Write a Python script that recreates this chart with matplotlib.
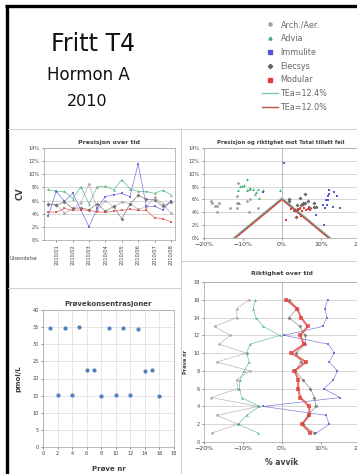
import matplotlib
matplotlib.use('Agg')
import matplotlib.pyplot as plt
from matplotlib.lines import Line2D
from matplotlib.ticker import PercentFormatter

W, H = 357, 474

# sample number 1..16 (2 samples per send-out)
samples = list(range(1, 17))
months = ['2010/01', '2010/02', '2010/03', '2010/04', '2010/05', '2010/06', '2010/07', '2010/08']

series = ['Arch./Aer.', 'Advia', 'Immulite', 'Elecsys', 'Modular']
colors = {'Arch./Aer.': '#a69aa6', 'Advia': '#3fae72', 'Immulite': '#5757d1',
          'Elecsys': '#666666', 'Modular': '#e0403c'}
markers = {'Arch./Aer.': 'o', 'Advia': '^', 'Immulite': 's', 'Elecsys': 'D', 'Modular': 's'}

# CV (%) per sample
cv_arch = [5.4, 5.4, 4.1, 4.7, 5.7, 8.5, 4.6, 6.0, 5.0, 5.8, 5.5, 4.7, 5.0, 6.5, 5.5, 4.1]
cv_advia = [7.7, 7.4, 7.4, 6.3, 8.1, 5.5, 8.1, 8.2, 7.6, 9.2, 7.8, 7.4, 7.4, 7.1, 7.6, 6.9]
cv_immulite = [3.6, 7.4, 5.9, 7.1, 4.6, 2.0, 4.9, 6.6, 6.9, 7.1, 6.6, 11.6, 5.1, 5.1, 4.6, 5.9]
cv_elecsys = [5.5, 5.3, 5.8, 4.8, 4.9, 4.6, 5.5, 4.4, 5.1, 3.2, 5.5, 6.8, 6.2, 6.1, 5.1, 5.8]
cv_modular = [4.3, 4.2, 4.8, 4.5, 4.6, 4.5, 4.3, 4.2, 4.4, 4.5, 4.7, 4.5, 4.5, 3.4, 3.2, 2.8]

# bias (%) per sample
bias_arch = [-18.0, -11.4, -16.7, -6.1, -18.1, -11.4, -11.6, -8.2, -16.7, -9.1, -16.1, -13.3, -17.3, -11.6, -11.6, -8.5]
bias_advia = [-6.1, -11.2, -9.1, -5.8, -10.3, -10.9, -10.8, -9.7, -8.4, -9.1, -8.2, -0.6, -4.8, -6.7, -7.4, -6.8]
bias_immulite = [8.7, 12.1, 11.3, -4.8, 14.9, 10.7, 13.2, 14.2, 12.1, 13.4, 11.9, 0.5, 10.4, 11.5, 11.0, 11.7]
bias_elecsys = [8.3, 5.3, 6.6, 8.7, 8.3, 7.3, 5.3, 3.4, 4.9, 3.6, 5.9, 6.0, 4.5, 1.8, 3.9, 1.9]
bias_modular = [7.3, 5.1, 7.0, 7.0, 4.7, 4.1, 4.2, 3.2, 6.2, 2.4, 5.6, 4.7, 6.6, 4.9, 3.9, 1.1]

cv = {'Arch./Aer.': cv_arch, 'Advia': cv_advia, 'Immulite': cv_immulite,
      'Elecsys': cv_elecsys, 'Modular': cv_modular}
bias = {'Arch./Aer.': bias_arch, 'Advia': bias_advia, 'Immulite': bias_immulite,
        'Elecsys': bias_elecsys, 'Modular': bias_modular}

# total allowable error limits
tea_labels = ['TEa=12.4%', 'TEa=12.0%']
tea_values = [12.4, 12.0]
tea_colors = ['#7cc8a8', '#c0504d']

# sample concentrations (pmol/L)
conc = [34.7, 15.2, 34.6, 15.1, 35.0, 22.5, 22.4, 15.0, 34.7, 15.2, 34.7, 15.3, 34.4, 22.3, 22.5, 15.0]

TXT = '#404040'
GRID = '#c8c8c8'


def add_ax(l, t, r, b):
    return fig.add_axes([l / W, 1 - b / H, (r - l) / W, (b - t) / H])


def fline(x0, y0, x1, y1, **kw):
    fig.add_artist(Line2D([x0 / W, x1 / W], [1 - y0 / H, 1 - y1 / H], transform=fig.transFigure, **kw))


def style(ax):
    ax.tick_params(labelsize=3.6, colors=TXT, length=1.5, width=0.4, pad=1.5)
    for s in ax.spines.values():
        s.set_color('#a0a0a0')
        s.set_linewidth(0.5)


fig = plt.figure(figsize=(W / 100, H / 100), dpi=100)

# frame and cell separators
fline(5, 6, 357, 6, color='black', lw=2.4, solid_capstyle='butt')
fline(6.5, 5, 6.5, 474, color='black', lw=2.4, solid_capstyle='butt')
fline(8, 129, 357, 129, color='#c8c8c8', lw=0.6)
fline(181, 129, 181, 474, color='#c8c8c8', lw=0.6)
fline(8, 288, 181, 288, color='#c8c8c8', lw=0.6)
fline(181, 261, 357, 261, color='#c8c8c8', lw=0.6)

# header text
fig.text(93 / W, 1 - 44 / H, 'Fritt T4', fontsize=17, ha='center', va='center', color='#111111')
fig.text(88 / W, 1 - 75 / H, 'Hormon A', fontsize=12, ha='center', va='center', color='#111111')
fig.text(87 / W, 1 - 101 / H, '2010', fontsize=11.5, ha='center', va='center', color='#111111')

handles = [Line2D([], [], ls='none', marker=markers[s], color=colors[s], markersize=2.2) for s in series]
handles += [Line2D([], [], color=c, lw=1.0) for c in tea_colors]
fig.legend(handles, series + tea_labels, loc='upper left', bbox_to_anchor=(258 / W, 1 - 16 / H),
           frameon=False, fontsize=5.8, labelcolor='#666666', handlelength=2.0, handletextpad=0.3,
           labelspacing=0.6, borderpad=0)

# Presisjon over tid
ax1 = add_ax(44, 148, 175, 240)
for s in series:
    ax1.plot(samples, cv[s], color=colors[s], lw=0.5, alpha=0.8, marker=markers[s], markersize=2, mew=0)
ax1.set_xlim(0.5, 16.5)
ax1.set_ylim(0, 14)
ax1.set_yticks(range(0, 15, 2))
ax1.yaxis.set_major_formatter(PercentFormatter(decimals=0))
ax1.set_xticks(samples[1::2])
ax1.set_xticklabels(months, rotation=90)
ax1.grid(axis='y', color=GRID, lw=0.5)
ax1.set_axisbelow(True)
style(ax1)
ax1.set_title('Presisjon over tid', fontsize=4.5, fontweight='bold', color=TXT, pad=3)
ax1.set_ylabel('CV', fontsize=6, fontweight='bold', color=TXT, labelpad=3)
fig.text(10 / W, 1 - 258 / H, 'Utsendelse', fontsize=3.6, color=TXT, va='center')

# Presisjon og riktighet mot Total tillatt feil
ax2 = add_ax(204, 148, 360, 238)
for tv, tc in zip(tea_values, tea_colors):
    ax2.plot([-tv, 0, tv], [0, tv / 2, 0], color=tc, lw=1.2)
for s in series:
    ax2.scatter(bias[s], cv[s], color=colors[s], marker=markers[s], s=4, lw=0, zorder=3)
ax2.axvline(0, color='#a0a0a0', lw=0.5)
ax2.set_xlim(-20, 20)
ax2.set_ylim(0, 14)
ax2.set_yticks(range(0, 15, 2))
ax2.set_xticks([-20, -10, 0, 10, 20])
ax2.xaxis.set_major_formatter(PercentFormatter(decimals=0))
ax2.yaxis.set_major_formatter(PercentFormatter(decimals=0))
ax2.grid(axis='y', color=GRID, lw=0.5)
ax2.set_axisbelow(True)
style(ax2)
ax2.tick_params(axis='x', labelsize=4.5)
ax2.set_title('Presisjon og riktighet mot Total tillatt feil', fontsize=3.9, fontweight='bold',
              color=TXT, pad=3, x=0.49)

# Prøvekonsentrasjoner
ax3 = add_ax(43, 310, 174, 447)
ax3.scatter(samples, conc, color='#4f81bd', s=9, lw=0, zorder=3)
ax3.set_xlim(0, 18)
ax3.set_ylim(0, 40)
ax3.set_xticks(range(0, 19, 2))
ax3.set_yticks(range(0, 41, 5))
ax3.grid(color='#dcdcdc', lw=0.5)
ax3.set_axisbelow(True)
style(ax3)
ax3.set_title('Prøvekonsentrasjoner', fontsize=5, fontweight='bold', color=TXT, pad=3)
ax3.set_xlabel('Prøve nr', fontsize=5, fontweight='bold', color=TXT, labelpad=7)
ax3.set_ylabel('pmol/L', fontsize=5, fontweight='bold', color=TXT, labelpad=8)

# Riktighet over tid
ax4 = add_ax(204, 282, 360, 442)
for s in series:
    lw = 1.5 if s == 'Modular' else 0.5
    ms = 3 if s == 'Modular' else 2
    ax4.plot(bias[s], samples, color=colors[s], lw=lw, alpha=0.75, marker=markers[s], markersize=ms, mew=0)
ax4.axvline(0, color='#a0a0a0', lw=0.5)
ax4.set_xlim(-20, 20)
ax4.set_ylim(0, 18)
ax4.set_yticks(range(0, 19, 2))
ax4.set_xticks([-20, -10, 0, 10, 20])
ax4.xaxis.set_major_formatter(PercentFormatter(decimals=0))
ax4.grid(axis='y', color=GRID, lw=0.5)
ax4.set_axisbelow(True)
style(ax4)
ax4.tick_params(axis='x', labelsize=4.5)
ax4.set_title('Riktighet over tid', fontsize=4.5, fontweight='bold', color=TXT, pad=5, x=0.5)
ax4.set_xlabel('% avvik', fontsize=5.5, fontweight='bold', color=TXT, labelpad=5)
ax4.set_ylabel('Prøve nr', fontsize=3.6, fontweight='bold', color=TXT, labelpad=4)

fig.savefig('out.png', dpi=100)
